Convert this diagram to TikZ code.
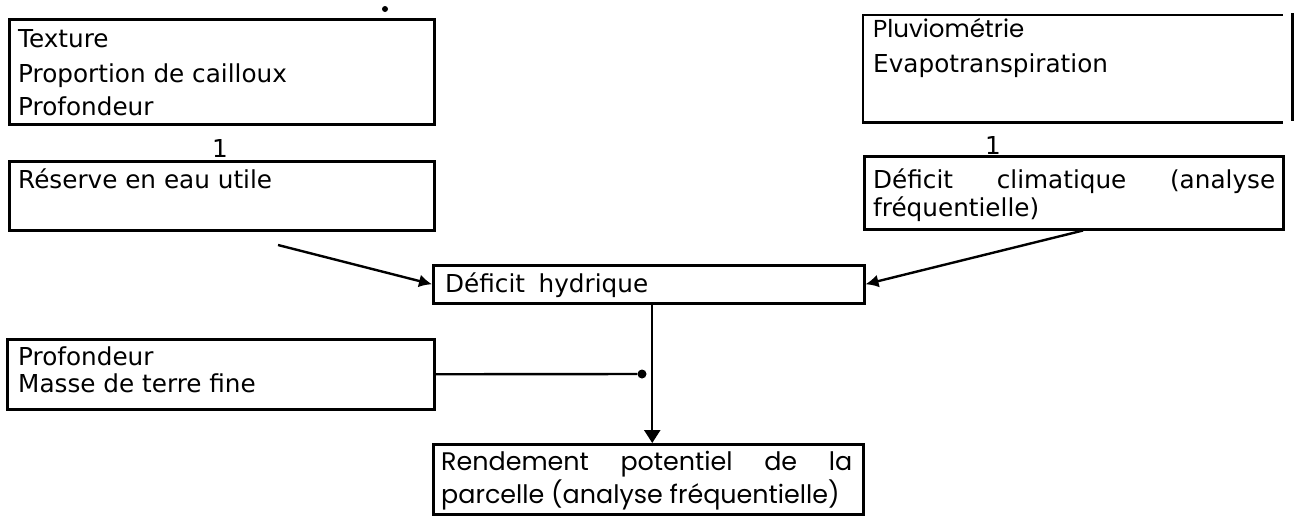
\documentclass[tikz,border=0pt]{standalone}
\usepackage{fontspec}
\setmainfont{DejaVu Sans}
\newfontfamily\geo{Poppins}
\usetikzlibrary{arrows.meta}
\begin{document}
\begin{tikzpicture}[x=1pt,y=-1pt,
  box/.style={draw, line width=2.5pt, inner sep=0pt, anchor=north west},
  txt/.style={anchor=base west, inner sep=0pt, font=\fontsize{24.7}{30}\selectfont},
  geotxt/.style={anchor=base west, inner sep=0pt, font=\geo\fontsize{25.4}{30}\selectfont},
  num/.style={anchor=base, inner sep=0pt, font=\fontsize{24.7}{30}\selectfont},
  conn/.style={line width=2.4pt},
  tip/.style={-{Latex[length=13pt,width=13pt]}},
  dot/.style={circle, fill, inner sep=0pt, minimum size=9pt},
]
\useasboundingbox (0,0) rectangle (1298,515);

% boxes
\node[box, minimum width=425pt, minimum height=105pt] (soil) at (8,18) {};
\node[box, minimum width=425pt, minimum height=69pt] (ru) at (8,160) {};
\node[box, draw=none, minimum width=417pt, minimum height=105pt] (clim) at (863,15) {};
\draw[line width=2.5pt] (clim.north east) -- (clim.north west) -- (clim.south west) -- (clim.south east);
\draw[line width=3pt] ([xshift=10pt,yshift=2pt]clim.north east) -- ([xshift=10pt,yshift=2pt]clim.south east);
\node[box, minimum width=419pt, minimum height=73pt] (dc) at (863,155) {};
\node[box, minimum width=431pt, minimum height=38pt] (dh) at (432,264) {};
\node[box, minimum width=427pt, minimum height=70pt] (prof) at (6,338) {};
\node[box, minimum width=430pt, minimum height=70pt] (rp) at (432,443) {};

% stray speck
\node[dot, minimum size=6pt] (speck) at (385,9) {};

% texts
\node[txt] (t1) at (18,47) {Texture};
\node[txt] (t2) at (18,82) {Proportion de cailloux};
\node[txt] (t3) at (18,115) {Profondeur};
\node[num] (n1) at (220,157) {1};
\node[txt] (t4) at (18,188) {Réserve en eau utile};

\node[geotxt, font=\geo\fontsize{24.5}{28}\selectfont] (t5) at (873,37) {Pluviométrie};
\node[txt] (t6) at (873,72) {Evapotranspiration};
\node[num] (n2) at (993,154) {1};
\node[txt] (t7) at (873,188) {\hbox to 402pt{Déficit\hfill climatique\hfill (analyse}};
\node[txt] (t8) at (873,216) {fréquentielle)};

\node[txt] (t9) at (445,292) {Déficit\hspace{0.55em}hydrique};

\node[txt] (t10) at (18,365) {Profondeur};
\node[txt] (t11) at (18,392) {Masse de terre fine};

\node[geotxt] (t12) at (441,470) {\hbox to 411pt{Rendement\hfill potentiel\hfill de\hfill la}};
\node[geotxt] (t13) at (441,503) {parcelle (analyse fréquentielle)};

% connectors
\coordinate (s1) at (278,245);
\draw[conn, tip] (s1) -- (dh.west);
\draw[conn, tip] ([xshift=220pt]dc.south west) -- (dh.east);
\node[dot] (j) at (642,374) {};
\draw[conn] (prof.east) -- (j);
\draw[conn, -{Triangle[length=13pt,width=16pt]}] ([xshift=3.5pt]dh.south) -- ([xshift=4pt]rp.north);
\end{tikzpicture}
\end{document}
